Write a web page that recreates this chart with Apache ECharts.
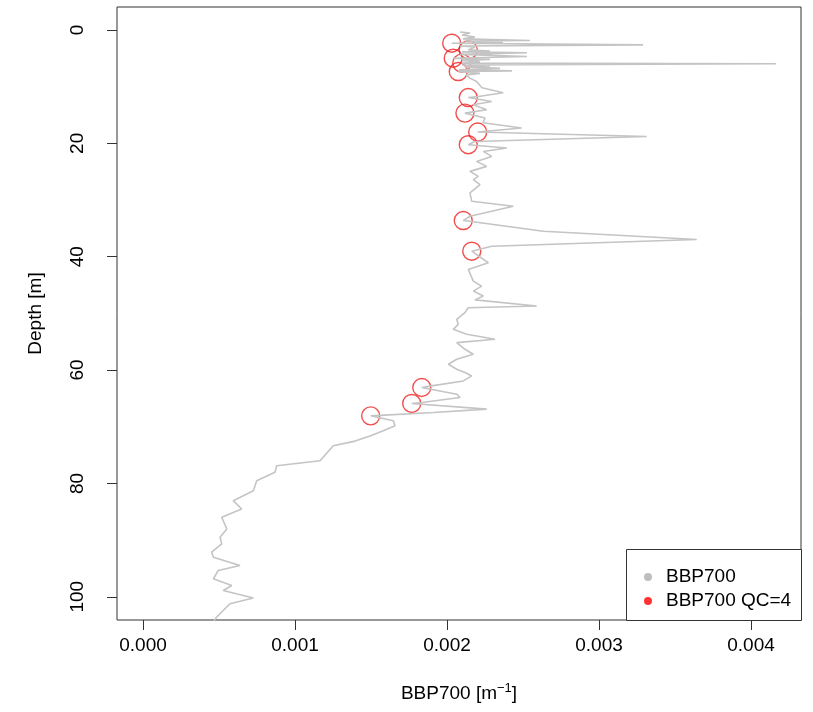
<!DOCTYPE html>
<html>
<head>
<meta charset="utf-8">
<script src="https://cdn.jsdelivr.net/npm/echarts@6/dist/echarts.min.js"></script>
<style>html,body{margin:0;padding:0;background:#fff}#c{width:813px;height:712px}</style>
</head>
<body>
<div id="c"></div>
<script>
const depth = [0.35,0.53,0.88,1.23,1.58,1.85,1.94,2.20,2.34,2.64,2.82,2.99,3.52,3.70,3.87,4.01,4.31,4.67,4.98,5.19,5.37,5.63,5.86,5.95,6.16,6.34,6.51,6.78,7.04,7.22,7.34,7.66,7.92,
8.50,9.10,10.21,11.09,11.74,11.92,12.62,13.20,14.08,14.67,15.55,16.37,17.31,18.01,18.79,19.67,20.25,20.83,21.43,22.31,23.19,24.07,24.95,25.83,
26.41,27.29,28.75,30.23,31.11,32.87,33.63,33.89,35.51,36.97,38.15,38.61,39.03,41.07,42.25,44.31,45.19,46.07,46.95,47.62,48.71,
49.00,49.88,51.06,51.94,52.82,53.70,54.58,55.16,56.34,57.22,58.10,58.98,59.86,60.44,61.04,61.92,62.80,63.08,64.26,64.84,65.72,65.90,66.90,67.48,68.08,68.96,69.84,70.72,71.65,72.54,73.36,76.00,76.88,78.05,79.52,81.29,83.05,84.51,85.97,88.03,89.49,90.67,92.13,93.01,94.49,95.37,96.83,98.01,98.89,100.23,101.23,103.57,104.75];
const bbp700 = [0.002086,0.002151,0.002099,0.002184,0.002105,0.002546,0.002118,0.002368,0.002031,0.003290,0.002086,0.002184,0.002140,0.002283,0.002099,0.002526,0.002086,0.002526,0.002041,0.002283,0.002099,0.002217,0.002097,0.004165,0.002099,0.002283,0.002118,0.002349,0.002079,0.002428,0.002074,0.002217,0.002125,
0.002151,0.002195,0.002230,0.002370,0.002206,0.002140,0.002294,0.002173,0.002261,0.002118,0.002250,0.002237,0.002491,0.002202,0.003314,0.002184,0.002140,0.002393,0.002239,0.002294,0.002195,0.002261,0.002151,0.002206,
0.002173,0.002217,0.002151,0.002163,0.002436,0.002151,0.002107,0.002184,0.002634,0.003643,0.002294,0.002228,0.002163,0.002272,0.002140,0.002173,0.002228,0.002173,0.002239,0.002184,0.002590,
0.002140,0.002118,0.002064,0.002074,0.002041,0.002130,0.002316,0.002064,0.002118,0.002173,0.002064,0.002009,0.002064,0.002118,0.002163,0.002107,0.001899,0.001834,0.002064,0.002086,0.001834,0.001768,0.002261,0.001910,0.001498,0.001647,0.001658,0.001581,0.001493,0.001395,0.001252,0.001165,0.000880,0.000868,0.000748,0.000726,0.000594,0.000649,0.000518,0.000551,0.000507,0.000518,0.000452,0.000463,0.000638,0.000495,0.000463,0.000584,0.000528,0.000726,0.000572,0.000485,0.000454];
const qcDepth = [2.34,3.52,4.98,5.86,7.34,11.92,14.67,18.01,20.25,33.63,39.03,63.08,65.90,68.08];
const qcBbp700 = [0.002031,0.002140,0.002041,0.002097,0.002074,0.002140,0.002118,0.002202,0.002140,0.002107,0.002163,0.001834,0.001768,0.001498];
const xTicks = [0, 0.001, 0.002, 0.003, 0.004];
const yTicks = [0, 20, 40, 60, 80, 100];
const seriesNames = ['BBP700', 'BBP700 QC=4'];

const FONT = 'Liberation Sans, Arial, Helvetica, sans-serif';
const chart = echarts.init(document.getElementById('c'), null, {renderer: 'canvas'});
chart.setOption({
  animation: false,
  backgroundColor: '#ffffff',
  textStyle: {fontFamily: FONT},
  grid: {left: 117, top: 7, right: 12, bottom: 92, show: true, borderColor: '#333', borderWidth: 1, backgroundColor: 'transparent'},
  xAxis: {
    type: 'value', min: -0.000171, max: 0.004329,
    axisLine: {show: false, onZero: false},
    splitLine: {show: false},
    axisTick: {show: true, customValues: xTicks, length: 10, lineStyle: {color: '#333'}},
    axisLabel: {customValues: xTicks, formatter: v => v.toFixed(3), fontSize: 19, color: '#000', margin: 16, fontFamily: FONT},
    name: 'BBP700 [m{sup|−1}]', nameLocation: 'middle', nameGap: 62,
    nameTextStyle: {fontSize: 19, color: '#000', fontFamily: FONT, rich: {sup: {fontSize: 13, padding: [0, 0, 10, 0], fontFamily: FONT, color: '#000'}}}
  },
  yAxis: {
    type: 'value', inverse: true, min: -4.05, max: 104.1,
    axisLine: {show: false, onZero: false},
    splitLine: {show: false},
    axisTick: {show: true, customValues: yTicks, length: 10, lineStyle: {color: '#333'}},
    axisLabel: {customValues: yTicks, rotate: 90, fontSize: 19, color: '#000', margin: 30, fontFamily: FONT},
    name: 'Depth [m]', nameLocation: 'middle', nameGap: 72,
    nameTextStyle: {fontSize: 19, color: '#000', fontFamily: FONT}
  },
  legend: {
    orient: 'vertical', left: 639, top: 562, itemGap: 4, itemWidth: 8, itemHeight: 8, z: 20,
    textStyle: {fontSize: 19, color: '#000', fontFamily: FONT, lineHeight: 20, padding: [0, 0, 0, 9]},
    data: [
      {name: seriesNames[0], icon: 'circle', itemStyle: {color: '#bebebe', borderWidth: 0}},
      {name: seriesNames[1], icon: 'circle', itemStyle: {color: '#ff0000', borderWidth: 0}}
    ]
  },
  graphic: [{
    type: 'rect', left: 626, top: 549, z: 10,
    shape: {width: 175, height: 71},
    style: {fill: '#ffffff', stroke: '#333', lineWidth: 1}
  }],
  series: [
    {
      name: seriesNames[0], type: 'line', showSymbol: false, symbol: 'none', clip: true,
      lineStyle: {color: '#c4c4c4', width: 1.6},
      data: bbp700.map((v, i) => [v, depth[i]])
    },
    {
      name: seriesNames[1], type: 'scatter', symbol: 'circle', symbolSize: 18, clip: true,
      itemStyle: {color: 'rgba(0,0,0,0)', borderColor: '#ee2222', borderWidth: 1.4},
      data: qcBbp700.map((v, i) => [v, qcDepth[i]])
    }
  ]
});
</script>
</body>
</html>
